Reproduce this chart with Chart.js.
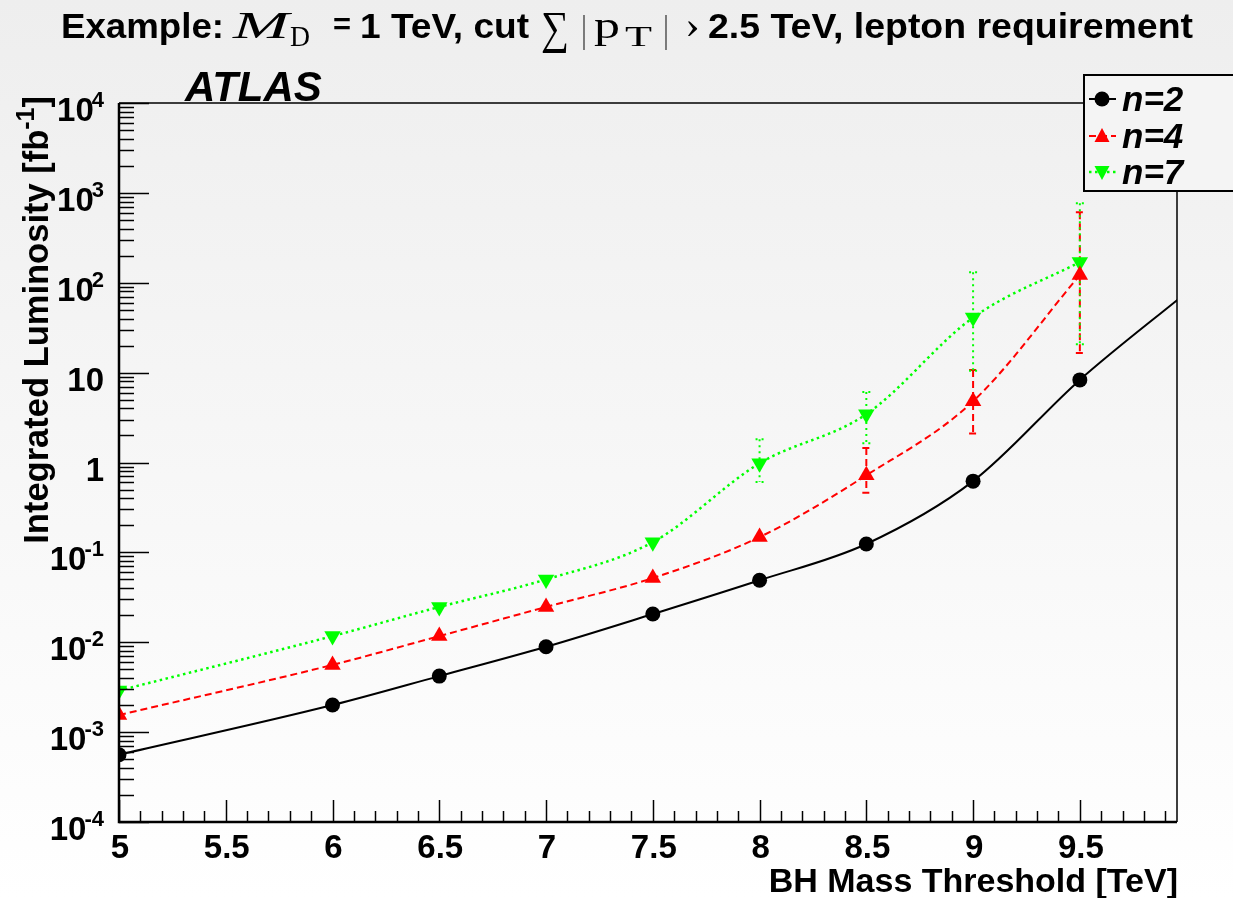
<!DOCTYPE html>
<html><head><meta charset="utf-8">
<script src="https://cdn.jsdelivr.net/npm/chart.js@4.4.1/dist/chart.umd.min.js"></script>
<style>html,body{margin:0;padding:0;background:#fff;}#wrap{width:1233px;height:898px;}</style>
</head><body><div id="wrap"><canvas id="c" width="1233" height="898"></canvas></div>
<script>
// ---- data ----
const massN2 = [5, 6, 6.5, 7, 7.5, 8, 8.5, 9, 9.5, 10];
const lumiN2 = [5.6e-4, 2.0e-3, 4.2e-3, 8.9e-3, 0.0206, 0.049, 0.124, 0.62, 8.3, 78];
const massN4 = [5, 6, 6.5, 7, 7.5, 8, 8.5, 9, 9.5];
const lumiN4 = [1.55e-3, 5.6e-3, 0.0117, 0.0247, 0.0518, 0.148, 0.72, 4.8, 122];
const errN4Low = [null, null, null, null, null, null, 0.46, 2.1, 16.5];
const errN4High = [null, null, null, null, null, null, 1.45, 10.7, 610];
const massN7 = [5, 6, 6.5, 7, 7.5, 8, 8.5, 9, 9.5];
const lumiN7 = [2.9e-3, 0.0117, 0.0247, 0.050, 0.130, 0.98, 3.45, 41, 170];
const errN7Low = [null, null, null, null, null, 0.605, 1.64, 10.5, 20.7];
const errN7High = [null, null, null, null, null, 1.82, 6.07, 131, 768];
const seriesNames = ['n=2', 'n=4', 'n=7'];
const xTickValues = [5, 5.5, 6, 6.5, 7, 7.5, 8, 8.5, 9, 9.5];
const xTickLabels = ['5', '5.5', '6', '6.5', '7', '7.5', '8', '8.5', '9', '9.5'];
const yTickValues = [1e-4, 1e-3, 1e-2, 1e-1, 1, 10, 100, 1000, 10000];
const yTickBase = ['10', '10', '10', '10', '1', '10', '10', '10', '10'];
const yTickExp = ['-4', '-3', '-2', '-1', '', '', '2', '3', '4'];
const xTitle = 'BH Mass Threshold [TeV]';
const yTitle = 'Integrated Luminosity [fb';
const atlasLabel = 'ATLAS';

const pts = (xs, ys) => xs.map((x, i) => ({x: x, y: ys[i]}));

const SANS = '"Liberation Sans", Arial, Helvetica, sans-serif';
const SERIF = '"Liberation Serif", "DejaVu Serif", serif';

function fitText(ctx, text, x0, x1, y, font) {
  ctx.save();
  ctx.font = font; ctx.textAlign = 'left'; ctx.textBaseline = 'alphabetic';
  const w = ctx.measureText(text).width;
  const s = (x1 - x0) / w;
  ctx.translate(x0, y); ctx.scale(s, 1); ctx.fillText(text, 0, 0);
  ctx.restore();
}

function drawMarker(ctx, style, x, y, color) {
  ctx.save(); ctx.fillStyle = color; ctx.beginPath();
  if (style === 'circle') { ctx.arc(x, y, 7.5, 0, Math.PI * 2); }
  else if (style === 'up') { ctx.moveTo(x, y - 8); ctx.lineTo(x + 7.5, y + 6); ctx.lineTo(x - 7.5, y + 6); ctx.closePath(); }
  else { ctx.moveTo(x, y + 8); ctx.lineTo(x + 7.5, y - 6); ctx.lineTo(x - 7.5, y - 6); ctx.closePath(); }
  ctx.fill(); ctx.restore();
}

const errSets = [
  {xs: massN4, lo: errN4Low, hi: errN4High, color: '#ff0000', dash: [7, 4], width: 2},
  {xs: massN7, lo: errN7Low, hi: errN7High, color: '#00ff00', dash: [2, 4], width: 2}
];

const deco = {
  id: 'deco',
  beforeDraw(chart) {
    const ctx = chart.ctx;
    const g = ctx.createLinearGradient(0, 0, 0, chart.height);
    g.addColorStop(0, '#eeeeee'); g.addColorStop(1, '#ffffff');
    ctx.save(); ctx.fillStyle = g; ctx.fillRect(0, 0, chart.width, chart.height); ctx.restore();
  },
  beforeDatasetsDraw(chart) {
    const ctx = chart.ctx, xs = chart.scales.x, ys = chart.scales.y;
    ctx.save();
    errSets.forEach(s => {
      ctx.strokeStyle = s.color; ctx.lineWidth = s.width; ctx.setLineDash(s.dash);
      s.xs.forEach((xv, i) => {
        if (s.lo[i] == null) return;
        const px = xs.getPixelForValue(xv);
        const yt = ys.getPixelForValue(s.hi[i]);
        const yb = ys.getPixelForValue(s.lo[i]);
        ctx.beginPath(); ctx.moveTo(px, yt); ctx.lineTo(px, yb); ctx.stroke();
        ctx.beginPath(); ctx.moveTo(px - 4, yt); ctx.lineTo(px + 4, yt);
        ctx.moveTo(px - 4, yb); ctx.lineTo(px + 4, yb); ctx.stroke();
      });
    });
    ctx.restore();
  },
  afterDatasetsDraw(chart) {
    const ctx = chart.ctx, xs = chart.scales.x, ys = chart.scales.y;
    const a = chart.chartArea;
    const L = a.left, R = a.right, T = a.top, B = a.bottom;
    ctx.save();
    ctx.strokeStyle = '#000'; ctx.fillStyle = '#000'; ctx.setLineDash([]);
    // frame
    ctx.lineWidth = 1.5;
    ctx.beginPath(); ctx.moveTo(L, T); ctx.lineTo(R, T); ctx.lineTo(R, B); ctx.stroke();
    ctx.lineWidth = 2.5;
    ctx.beginPath(); ctx.moveTo(L, T); ctx.lineTo(L, B); ctx.lineTo(R, B); ctx.stroke();
    // x ticks
    ctx.lineWidth = 1.5;
    for (let i = 50; i <= 99; i++) {
      const v = i / 10; const px = Math.round(xs.getPixelForValue(v)) + 0.5;
      const len = (i % 5 === 0) ? 22 : 11;
      ctx.beginPath(); ctx.moveTo(px, B); ctx.lineTo(px, B - len); ctx.stroke();
    }
    // y ticks
    for (let k = -4; k <= 4; k++) {
      for (let m = 1; m <= 9; m++) {
        if (k === 4 && m > 1) break;
        const v = m * Math.pow(10, k);
        const py = Math.round(ys.getPixelForValue(v)) + 0.5;
        const len = (m === 1) ? 30 : 15;
        ctx.beginPath(); ctx.moveTo(L, py); ctx.lineTo(L + len, py); ctx.stroke();
      }
    }
    // x tick labels
    ctx.font = 'bold 33px ' + SANS; ctx.textAlign = 'center'; ctx.textBaseline = 'alphabetic';
    xTickValues.forEach((v, i) => {
      ctx.fillText(xTickLabels[i], xs.getPixelForValue(v) + 1, 858);
    });
    // y tick labels
    yTickValues.forEach((v, i) => {
      const py = ys.getPixelForValue(v);
      let right = 104;
      ctx.textAlign = 'right';
      if (yTickExp[i]) {
        ctx.font = 'bold 22px ' + SANS;
        ctx.fillText(yTickExp[i], right, py + 4);
        right -= ctx.measureText(yTickExp[i]).width - 2;
      }
      ctx.font = 'bold 33px ' + SANS;
      ctx.fillText(yTickBase[i], right, py + 18);
    });
    // x title
    ctx.font = 'bold 34px ' + SANS; ctx.textAlign = 'right';
    ctx.fillText(xTitle, R + 1, 892);
    // y title (rotated)
    ctx.save();
    ctx.translate(48, 96); ctx.rotate(-Math.PI / 2);
    ctx.textAlign = 'left';
    ctx.font = 'bold 25px ' + SANS;
    const supW = ctx.measureText('-1').width;
    ctx.font = 'bold 34.5px ' + SANS;
    const brW = ctx.measureText(']').width;
    const mainW = ctx.measureText(yTitle).width;
    const x0 = -(mainW + supW + brW);
    ctx.fillText(yTitle, x0, 0);
    ctx.font = 'bold 25px ' + SANS;
    ctx.fillText('-1', x0 + mainW, -14);
    ctx.font = 'bold 34.5px ' + SANS;
    ctx.fillText(']', x0 + mainW + supW, 0);
    ctx.restore();
    // main title
    fitText(ctx, 'Example:', 61, 224, 38, 'bold 35px ' + SANS);
    fitText(ctx, 'M', 233, 289, 38, 'italic 38px ' + SERIF);
    fitText(ctx, 'D', 290, 310, 46, '30px ' + SERIF);
    fitText(ctx, '=', 333, 351, 34, 'bold 30px ' + SANS);
    fitText(ctx, '1 TeV, cut', 360, 529, 38, 'bold 35px ' + SANS);
    fitText(ctx, '\u2211', 541, 569, 43, '46px ' + SERIF);
    fitText(ctx, '|', 582, 586, 42, '38px ' + SERIF);
    fitText(ctx, 'p', 594, 620, 38, '38px ' + SERIF);
    fitText(ctx, 'T', 625, 652, 46, '30px ' + SERIF);
    fitText(ctx, '|', 664, 668, 42, '38px ' + SERIF);
    fitText(ctx, '\u203A', 685, 700, 37, '38px ' + SERIF);
    fitText(ctx, '2.5 TeV, lepton requirement', 708, 1193, 38, 'bold 35px ' + SANS);
    // ATLAS
    ctx.font = 'italic bold 42px ' + SANS; ctx.textAlign = 'left';
    ctx.fillText(atlasLabel, 185, 101);
    // legend
    ctx.fillStyle = '#f4f4f4';
    ctx.fillRect(1084, 75, 170, 116);
    ctx.lineWidth = 2; ctx.strokeStyle = '#000';
    ctx.strokeRect(1084, 75, 170, 116);
    const legY = [99, 136, 172];
    const legStyle = [
      {c: '#000000', dash: [], m: 'circle', w: 2},
      {c: '#ff0000', dash: [7, 4], m: 'up', w: 2},
      {c: '#00ff00', dash: [2.5, 3.5], m: 'down', w: 2.5}
    ];
    legStyle.forEach((s, i) => {
      const y = legY[i];
      ctx.strokeStyle = s.c; ctx.lineWidth = s.w; ctx.setLineDash(s.dash);
      ctx.beginPath(); ctx.moveTo(1089, y); ctx.lineTo(1116, y); ctx.stroke();
      ctx.setLineDash([]);
      drawMarker(ctx, s.m, 1102, y, s.c);
      ctx.fillStyle = '#000'; ctx.font = 'italic bold 35px ' + SANS; ctx.textAlign = 'left';
      ctx.fillText(seriesNames[i], 1122, y + 12);
    });
    ctx.restore();
  }
};

new Chart(document.getElementById('c'), {
  type: 'line',
  data: {
    datasets: [
      {label: seriesNames[0], data: pts(massN2, lumiN2), borderColor: '#000000', backgroundColor: '#000000',
       borderWidth: 2, pointStyle: 'circle', pointRadius: massN2.map(x => x > 9.96 ? 0 : 7.5), pointBorderWidth: 0,
       cubicInterpolationMode: 'monotone', fill: false},
      {label: seriesNames[1], data: pts(massN4, lumiN4), borderColor: '#ff0000', backgroundColor: '#ff0000',
       borderWidth: 2, borderDash: [7, 4], pointStyle: 'triangle', pointRadius: 9.5, pointBorderWidth: 0,
       cubicInterpolationMode: 'monotone', fill: false},
      {label: seriesNames[2], data: pts(massN7, lumiN7), borderColor: '#00ff00', backgroundColor: '#00ff00',
       borderWidth: 2.5, borderDash: [2.5, 3.5], pointStyle: 'triangle', pointRotation: 180, pointRadius: 9.5, pointBorderWidth: 0,
       cubicInterpolationMode: 'monotone', fill: false}
    ]
  },
  options: {
    responsive: false, animation: false, devicePixelRatio: 1,
    layout: {padding: {left: 119, top: 103, right: 56, bottom: 76}},
    plugins: {legend: {display: false}, title: {display: false}, tooltip: {enabled: false}},
    scales: {
      x: {type: 'linear', min: 5, max: 9.955, display: false},
      y: {type: 'logarithmic', min: 1e-4, max: 1e4, display: false}
    }
  },
  plugins: [deco]
});
</script>
</body></html>
